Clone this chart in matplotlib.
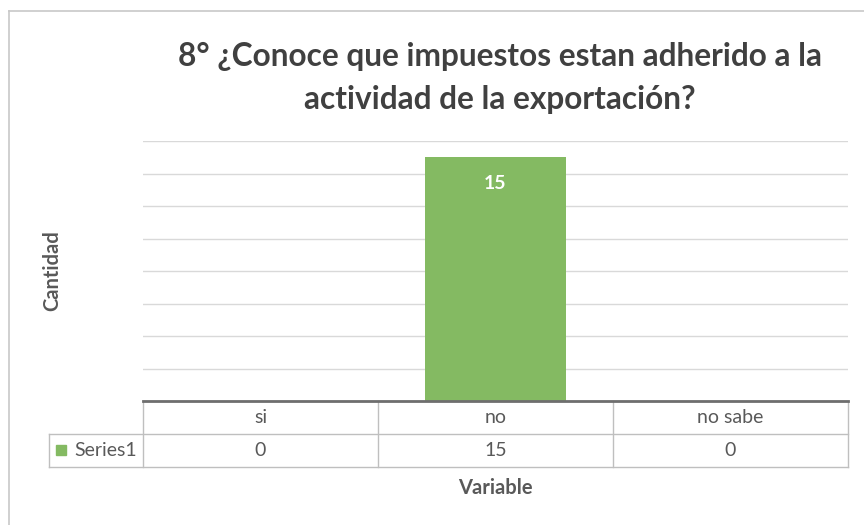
import matplotlib.pyplot as plt
from matplotlib.lines import Line2D
from matplotlib.patches import Rectangle

# Data
categories = ['si', 'no', 'no sabe']
values = [0, 15, 0]
series_name = 'Series1'
title_text = '8° ¿Conoce que impuestos estan adherido a la\nactividad de la exportación?'
x_label = 'Variable'
y_label = 'Cantidad'

plt.rcParams['font.family'] = ['Lato', 'DejaVu Sans']
bar_color = '#84BA62'
text_gray = '#595959'
border_gray = '#BFBFBF'

W, H = 864, 525
fig = plt.figure(figsize=(W / 100, H / 100), dpi=100)

# outer chart border (only left and top visible in the crop)
fig.add_artist(Line2D([9 / W, 9 / W], [0, 1 - 11 / H], transform=fig.transFigure, color='#C8C8C8', lw=1.2))
fig.add_artist(Line2D([9 / W, 1], [1 - 11 / H, 1 - 11 / H], transform=fig.transFigure, color='#C8C8C8', lw=1.2))

# plot area
ax = fig.add_axes([143 / W, 1 - 401 / H, 705 / W, 260 / H])
xpos = list(range(len(categories)))
ax.bar(xpos, values, width=0.6, color=bar_color, zorder=2)
ax.set_xlim(-0.5, len(categories) - 0.5)
ax.set_ylim(0, 16)
ax.set_yticks(range(0, 17, 2))
ax.yaxis.grid(True, color='#D9D9D9', lw=1)
ax.set_axisbelow(True)
ax.tick_params(left=False, labelleft=False, bottom=False, labelbottom=False)
for s in ax.spines.values():
    s.set_visible(False)

# data labels inside end
for xi, v in zip(xpos, values):
    if v > 0:
        ax.annotate(str(v), (xi, v), xytext=(0, -19), textcoords='offset points',
                    ha='center', va='center', color='white', fontsize=14, fontweight='bold')

# axis line
ax.axhline(0, color='#6E6E6E', lw=2, zorder=3, clip_on=False)

# data table under the plot area
row_h = 33 / 260
left = (49 - 143) / 705
lk = dict(transform=ax.transAxes, color=border_gray, lw=1, clip_on=False)
for xf in [0, 1 / 3, 2 / 3, 1]:
    ax.add_line(Line2D([xf, xf], [0, -2 * row_h], **lk))
ax.add_line(Line2D([left, 1], [-row_h, -row_h], **lk))
ax.add_line(Line2D([left, 1], [-2 * row_h, -2 * row_h], **lk))
ax.add_line(Line2D([left, left], [-row_h, -2 * row_h], **lk))

for xi, cat, v in zip(xpos, categories, values):
    ax.text((xi + 0.5) / len(categories), -0.5 * row_h, cat, transform=ax.transAxes,
            ha='center', va='center', color=text_gray, fontsize=14)
    ax.text((xi + 0.5) / len(categories), -1.5 * row_h, str(v), transform=ax.transAxes,
            ha='center', va='center', color=text_gray, fontsize=14)

ax.add_patch(Rectangle(((56 - 143) / 705, -1.5 * row_h - 4.5 / 260), 10 / 705, 10 / 260,
                       transform=ax.transAxes, color=bar_color, clip_on=False))
ax.text((74 - 143) / 705, -1.5 * row_h, series_name, transform=ax.transAxes,
        ha='left', va='center', color=text_gray, fontsize=14)

# titles
fig.text(500 / W, 1 - 78 / H, title_text, ha='center', va='center', fontsize=22.8,
         fontweight='bold', color='#404040', linespacing=1.55)
fig.text(495 / W, 1 - 488 / H, x_label, ha='center', va='center', fontsize=14.5,
         fontweight='bold', color=text_gray)
fig.text(52 / W, 1 - 271 / H, y_label, ha='center', va='center', rotation=90,
         fontsize=14.5, fontweight='bold', color=text_gray)

fig.savefig('out.png', dpi=100, facecolor='white')
